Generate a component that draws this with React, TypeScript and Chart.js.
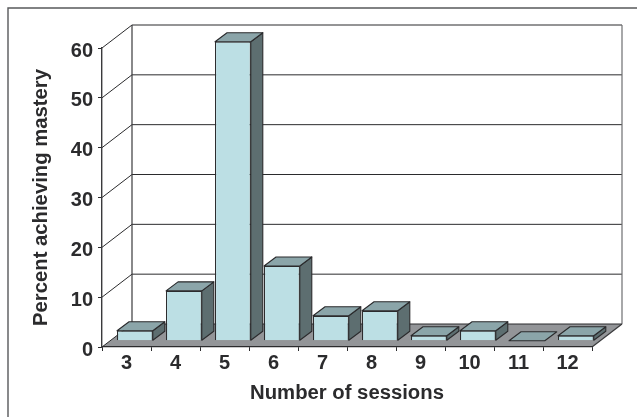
import React, { useEffect, useRef } from "react";
import { Chart, registerables } from "chart.js";

Chart.register(...registerables);

const categories = ["3", "4", "5", "6", "7", "8", "9", "10", "11", "12"];
const percentMastery = [2, 10, 60, 15, 5, 6, 1, 2, 0, 1];

const W = 637;
const H = 417;
const FONT = '"Liberation Sans", Arial, sans-serif';
const DX = 30;
const DY = 23;
const BAR_SHIFT_X = 8.4;
const BAR_SHIFT_Y = 6.3;
const BAR_DX = 12;
const BAR_DY = 9;
const INK = "#2b2b2d";

function poly(ctx: CanvasRenderingContext2D, pts: number[][], fill?: string, stroke?: string, lw = 1) {
  ctx.beginPath();
  pts.forEach((p, i) => (i ? ctx.lineTo(p[0], p[1]) : ctx.moveTo(p[0], p[1])));
  ctx.closePath();
  if (fill) { ctx.fillStyle = fill; ctx.fill(); }
  if (stroke) { ctx.strokeStyle = stroke; ctx.lineWidth = lw; ctx.lineJoin = "round"; ctx.stroke(); }
}

const box3d = {
  id: "box3d",
  beforeDraw(chart: any) {
    const { ctx, chartArea: a, scales } = chart;
    ctx.save();
    ctx.fillStyle = "#fff";
    ctx.fillRect(0, 0, W, H);
    ctx.strokeStyle = "#58595b";
    ctx.lineWidth = 1.4;
    ctx.beginPath();
    ctx.moveTo(8, H);
    ctx.lineTo(8, 8);
    ctx.lineTo(W, 8);
    ctx.stroke();

    // floor
    poly(ctx, [[a.left, a.bottom], [a.left + DX, a.bottom - DY], [a.right + DX, a.bottom - DY], [a.right, a.bottom]], "#939598");

    // gridlines on the back and side walls
    ctx.lineWidth = 1;
    ctx.strokeStyle = INK;
    scales.y.ticks.forEach((t: any) => {
      const y = scales.y.getPixelForValue(t.value);
      ctx.beginPath();
      ctx.moveTo(a.left, y);
      ctx.lineTo(a.left + DX, y - DY);
      ctx.lineTo(a.right + DX, y - DY);
      ctx.stroke();
    });
    // wall edges
    ctx.strokeStyle = "#3a3a3c";
    ctx.lineWidth = 1.2;
    ctx.beginPath();
    ctx.moveTo(a.left + DX, a.top - DY);
    ctx.lineTo(a.left + DX, a.bottom - DY);
    ctx.stroke();
    ctx.strokeStyle = "#6d6e71";
    ctx.beginPath();
    ctx.moveTo(a.right + DX, a.top - DY);
    ctx.lineTo(a.right + DX, a.bottom - DY);
    ctx.stroke();
    ctx.strokeStyle = "#3a3a3c";
    ctx.beginPath();
    ctx.moveTo(a.right + DX, a.bottom - DY);
    ctx.lineTo(a.right, a.bottom);
    ctx.stroke();
    ctx.restore();
  },
  beforeDatasetDraw(chart: any) {
    const { ctx } = chart;
    ctx.save();
    ctx.translate(BAR_SHIFT_X, -BAR_SHIFT_Y);
    chart.getDatasetMeta(0).data.forEach((bar: any) => {
      const l = bar.x - bar.width / 2;
      const r = bar.x + bar.width / 2;
      const top = bar.y;
      const base = bar.base;
      if (base - top > 0.5) {
        poly(ctx, [[r, top], [r + BAR_DX, top - BAR_DY], [r + BAR_DX, base - BAR_DY], [r, base]], "#5d6e70", INK, 1.1);
      }
      poly(ctx, [[l, top], [l + BAR_DX, top - BAR_DY], [r + BAR_DX, top - BAR_DY], [r, top]], "#8ba5a9", INK, 1.1);
    });
  },
  afterDatasetDraw(chart: any) {
    chart.ctx.restore();
  },
};

export default function App() {
  const ref = useRef<HTMLCanvasElement>(null);
  useEffect(() => {
    const chart = new Chart(ref.current!, {
      type: "bar",
      data: {
        labels: categories,
        datasets: [
          {
            data: percentMastery,
            backgroundColor: "#bcdfe4",
            borderColor: INK,
            borderWidth: 1.1,
            categoryPercentage: 1,
            barPercentage: 0.73,
          },
        ],
      },
      options: {
        animation: false,
        responsive: false,
        devicePixelRatio: 1,
        layout: { padding: { left: 0, right: 45, top: 48, bottom: 0 } },
        plugins: { legend: { display: false }, tooltip: { enabled: false } },
        scales: {
          x: {
            afterFit: (s: any) => { s.height = 70; },
            grid: { drawOnChartArea: false, tickLength: 4, tickColor: INK, tickWidth: 1, offset: true },
            border: { color: INK, width: 1.2 },
            ticks: { color: INK, font: { family: FONT, size: 20, weight: "bold" }, padding: 0, maxRotation: 0, autoSkip: false },
            title: { display: true, text: "Number of sessions", color: INK, font: { family: FONT, size: 20.3, weight: "bold" }, padding: { top: 0, bottom: 11 } },
          },
          y: {
            min: 0,
            max: 60,
            afterFit: (s: any) => { s.width = 102; },
            grid: { drawOnChartArea: false, tickLength: 4, tickColor: INK, tickWidth: 1 },
            border: { color: "#3a3a3c", width: 1.4 },
            ticks: { stepSize: 10, color: INK, font: { family: FONT, size: 20, weight: "bold" }, padding: 5, labelOffset: 3 },
            title: { display: true, text: "Percent achieving mastery", color: INK, font: { family: FONT, size: 20.3, weight: "bold" }, padding: { top: 29, bottom: 0 } },
          },
        },
      },
      plugins: [box3d],
    } as any);
    return () => chart.destroy();
  }, []);
  return (
    <div style={{ position: "fixed", left: 0, top: 0, width: W, height: H, background: "#fff" }}>
      <canvas ref={ref} width={W} height={H} style={{ display: "block" }} />
    </div>
  );
}
